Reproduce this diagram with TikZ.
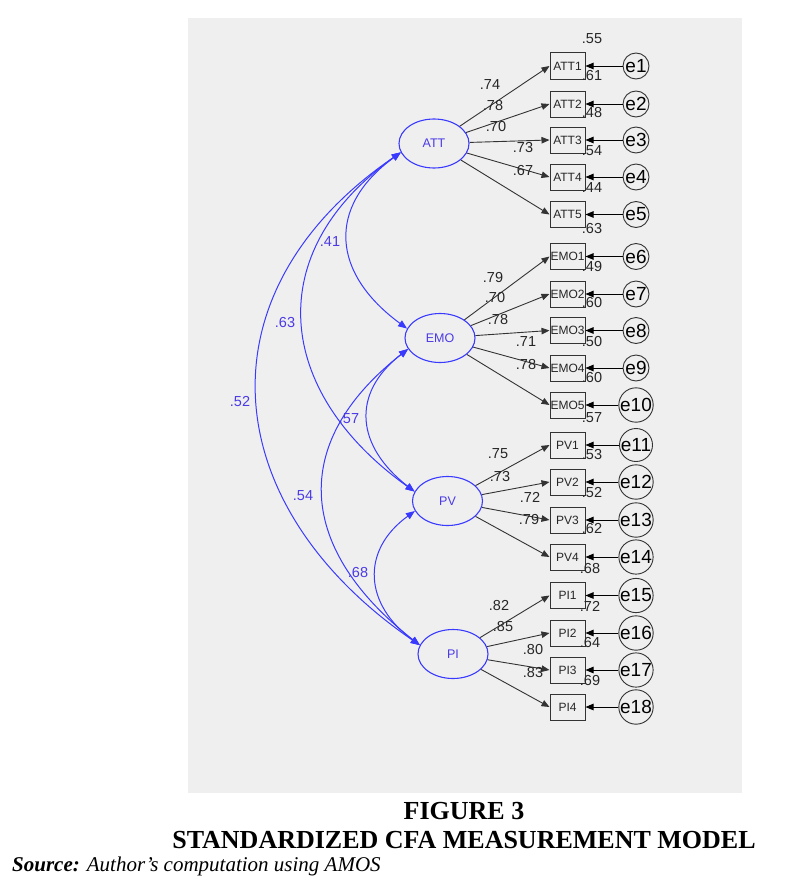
\documentclass[tikz,border=0pt]{standalone}
\usepackage{fontspec}
\usetikzlibrary{shapes.geometric,arrows.meta}
\newfontfamily\sansf{Liberation Sans}
\newfontfamily\serff{Liberation Serif}
\definecolor{bggray}{HTML}{EFEFEF}
\definecolor{cblue}{HTML}{3A3AFF}
\definecolor{ctext}{HTML}{4A3AE6}
\definecolor{cdark}{HTML}{333333}
\tikzset{
  lat/.style={ellipse, draw=cblue, line width=1.1pt, minimum width=70pt, minimum height=49pt, inner sep=0pt, text=ctext, font=\sansf\fontsize{12.5}{14}\selectfont},
  item/.style={draw=cdark, line width=1pt, minimum width=35pt, minimum height=26pt, inner sep=0pt, text=black!85, font=\sansf\fontsize{12}{13}\selectfont},
  err/.style={circle, draw=cdark, line width=0.9pt, minimum size=26pt, inner sep=0pt, text=black, font=\sansf\fontsize{19}{20}\selectfont},
  load/.style={draw=cdark, line width=0.9pt, -{Triangle[length=8pt,width=6.5pt]}},
  erra/.style={draw=black, line width=0.9pt, -{Triangle[length=8pt,width=6.5pt]}},
  cov/.style={draw=cblue, line width=1pt, {Triangle[length=9pt,width=7pt]}-{Triangle[length=9pt,width=7pt]}},
  num/.style={inner sep=0pt, text=black!85, font=\sansf\fontsize{14.5}{16}\selectfont},
  cnum/.style={inner sep=0pt, text=ctext, font=\sansf\fontsize{14.5}{16}\selectfont}
}
\begin{document}
\begin{tikzpicture}[x=1pt,y=-1pt]
\useasboundingbox (0,0) rectangle (796,891);
\fill[bggray] (188,18) rectangle (742,793);
% latent variables
\node[lat] (att) at (434,143.5) {ATT};
\node[lat] (emo) at (440,338) {EMO};
\node[lat] (pv) at (447.5,501) {PV};
\node[lat] (pi) at (453,654) {PI};
% items and errors
\foreach \n/\t/\y/\e in {att1/ATT1/66/e1, att2/ATT2/104/e2, att3/ATT3/140/e3, att4/ATT4/177/e4, att5/ATT5/214.5/e5,
  emo1/EMO1/256.5/e6, emo2/EMO2/294/e7, emo3/EMO3/330.5/e8, emo4/EMO4/368/e9, emo5/EMO5/405/e10,
  pv1/PV1/445/e11, pv2/PV2/482/e12, pv3/PV3/520/e13, pv4/PV4/557/e14,
  pi1/PI1/595.5/e15, pi2/PI2/633/e16, pi3/PI3/670/e17, pi4/PI4/707/e18}{
  \node[item] (\n) at (567.5,\y) {\t};
  \node[err] (\e) at (636,\y) {\e};
  \draw[erra] (\e) -- (\n);
}
% loadings
\foreach \i in {1,...,5}{\draw[load] (att) -- (att\i.west);}
\foreach \i in {1,...,5}{\draw[load] (emo) -- (emo\i.west);}
\foreach \i in {1,...,4}{\draw[load] (pv) -- (pv\i.west);}
\foreach \i in {1,...,4}{\draw[load] (pi) -- (pi\i.west);}
% covariances
\draw[cov] (att.195) .. controls +(-75,55) and +(-75,-55) .. (emo.164);
\draw[cov] (att.195) .. controls +(-140,100) and +(-140,-100) .. (pv.164);
\draw[cov] (att.195) .. controls +(-204,140) and +(-204,-140) .. (pi.165);
\draw[cov] (emo.199) .. controls +(-58,45) and +(-58,-45) .. (pv.164);
\draw[cov] (emo.199) .. controls +(-121,95) and +(-121,-95) .. (pi.165);
\draw[cov] (pv.197) .. controls +(-55,40) and +(-55,-40) .. (pi.165);
% covariance labels
\node[cnum] (c1) at (330,242) {.41};
\node[cnum] (c2) at (285,323) {.63};
\node[cnum] (c3) at (240,402) {.52};
\node[cnum] (c4) at (349,419) {.57};
\node[cnum] (c5) at (303,496) {.54};
\node[cnum] (c6) at (358,573) {.68};
% loading labels
\foreach \v/\x/\y [count=\k] in {.74/490/85, .78/493/106, .70/496/127, .73/523/148, .67/523/171,
  .79/493/278, .70/495/298, .78/498/320, .71/526/342, .78/526/365,
  .75/498/454, .73/500/477, .72/530/497, .79/529/520,
  .82/499/606, .85/503/627, .80/533/650, .83/533/673}{
  \node[num] (ld\k) at (\x,\y) {\v};
}
% squared multiple correlations
\foreach \v/\x/\y [count=\k] in {.55/592/39, .61/592/76, .48/592/113, .54/592/151, .44/592/188, .63/592/229,
  .49/592/267, .60/592/303, .50/592/342, .60/592/378, .57/592/418,
  .53/592/455, .52/592/493, .62/592/529, .68/590/569,
  .72/590/606, .64/590/643, .69/590/680}{
  \node[num] (r\k) at (\x,\y) {\v};
}
% caption
\node[inner sep=0pt, font=\serff\bfseries\fontsize{26}{28}\selectfont] (cap1) at (464,811) {FIGURE 3};
\node[inner sep=0pt, font=\serff\bfseries\fontsize{26}{28}\selectfont] (cap2) at (464,840) {STANDARDIZED CFA MEASUREMENT MODEL};
\node[inner sep=0pt, anchor=west, font=\serff\itshape\fontsize{21}{24}\selectfont] (src) at (12,866) {\textbf{Source:} Author’s computation using AMOS};
\end{tikzpicture}
\end{document}
